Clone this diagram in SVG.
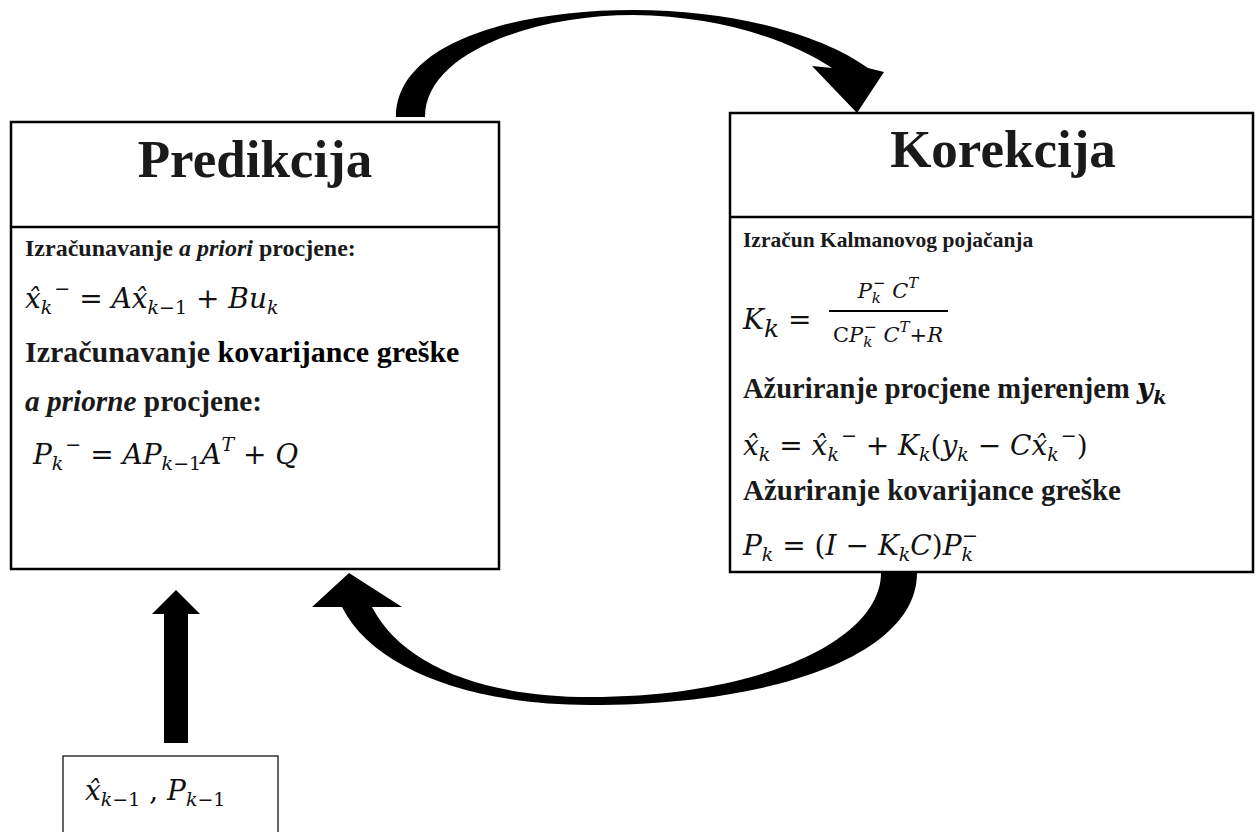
<svg xmlns="http://www.w3.org/2000/svg" width="1256" height="832" viewBox="0 0 1256 832">
<style>
.box{fill:#fff;stroke:#000;stroke-width:2.5}
.sbox{fill:#fff;stroke:#333;stroke-width:1.5}
.div{stroke:#000;stroke-width:2.5}
.t{font-family:"Liberation Serif",serif;font-weight:bold;fill:#1a1a1a}
.title{font-size:53px;text-anchor:middle}
.i{font-style:italic}
.m{font-family:"DejaVu Serif",serif;font-style:italic;font-size:28px;fill:#111}
.s{font-size:19px}
.r{font-style:normal}
.f{font-size:21px}
.fs{font-size:15px}
.arr{fill:#000;stroke:none}
</style>
<g id="connectors">
<path class="arr" d="M 396 117 C 396 45 510 10 633 10 C 735 10 822 35 868 68 L 884 72 L 857 113 L 812 66 L 832 68 C 790 40 720 16 633 15 C 535 15 425 52 425 117 Z"/>
<path class="arr" d="M 917 573 C 917 655 775 705 590 705 C 470 705 372 668 342 607 L 312 607 L 349 573 L 402 607 L 372 607 C 402 665 482 697 590 697 C 760 697 881 640 881 573 Z"/>
<path class="arr" d="M 164 743 L 164 614 L 152 614 L 176 590 L 200 614 L 188 614 L 188 743 Z"/>
</g>
<g id="predikcija">
<rect class="box" x="11" y="122" width="488" height="447"/>
<line class="div" x1="11" y1="227" x2="499" y2="227"/>
<text class="t title" x="255" y="177">Predikcija</text>
<text class="t" x="25" y="256" font-size="24">Izračunavanje <tspan class="i">a priori</tspan> procjene:</text>
<text class="m" x="25" y="308">x̂<tspan class="s" baseline-shift="-6">k</tspan><tspan class="s r" baseline-shift="13" dx="2">−</tspan><tspan class="r"> = </tspan>Ax̂<tspan class="s" baseline-shift="-6">k<tspan class="r">−1</tspan></tspan><tspan class="r"> + </tspan>Bu<tspan class="s" baseline-shift="-6">k</tspan></text>
<text class="t" x="25" y="362" font-size="30">Izračunavanje <tspan fill="#000">kovarijance greške</tspan></text>
<text class="t" x="25" y="411" font-size="29.3" fill="#000"><tspan class="i">a priorne</tspan> procjene:</text>
<text class="m" x="33" y="464">P<tspan class="s" baseline-shift="-6">k</tspan><tspan class="s r" baseline-shift="13" dx="2">−</tspan><tspan class="r"> = </tspan>AP<tspan class="s" baseline-shift="-6">k<tspan class="r">−1</tspan></tspan>A<tspan class="s" baseline-shift="13">T</tspan><tspan class="r"> + </tspan>Q</text>
</g>
<g id="korekcija">
<rect class="box" x="730" y="113" width="523" height="459"/>
<line class="div" x1="730" y1="217" x2="1253" y2="217"/>
<text class="t title" x="1003" y="167" font-size="56" fill="#000">Korekcija</text>
<text class="t" x="743" y="247" font-size="21.5">Izračun Kalmanovog pojačanja</text>
<text class="m" x="743" y="329" font-size="36">K<tspan font-size="25" baseline-shift="-8">k</tspan><tspan class="r"> = </tspan></text>
<text class="m f" x="888" y="298" text-anchor="middle">P<tspan class="fs" baseline-shift="-5">k</tspan><tspan class="r fs" baseline-shift="10" dx="-8">−</tspan> C<tspan class="fs" baseline-shift="10">T</tspan></text>
<line x1="829" y1="311" x2="948" y2="311" stroke="#000" stroke-width="2"/>
<text class="m f" x="888" y="342" text-anchor="middle"><tspan class="r">C</tspan>P<tspan class="fs" baseline-shift="-5">k</tspan><tspan class="r fs" baseline-shift="10" dx="-8">−</tspan> C<tspan class="fs" baseline-shift="10">T</tspan><tspan class="r">+</tspan>R</text>
<text class="t" x="743" y="398" font-size="28.5">Ažuriranje procjene mjerenjem  <tspan class="m" font-weight="bold" font-size="27">y<tspan class="s" baseline-shift="-6">k</tspan></tspan></text>
<text class="m" x="743" y="455">x̂<tspan class="s" baseline-shift="-6">k</tspan><tspan class="r"> = </tspan>x̂<tspan class="s" baseline-shift="-6">k</tspan><tspan class="s r" baseline-shift="13" dx="2">−</tspan><tspan class="r"> + </tspan>K<tspan class="s" baseline-shift="-6">k</tspan><tspan class="r">(</tspan>y<tspan class="s" baseline-shift="-6">k</tspan><tspan class="r"> − </tspan>Cx̂<tspan class="s" baseline-shift="-6">k</tspan><tspan class="s r" baseline-shift="13" dx="2">−</tspan><tspan class="r">)</tspan></text>
<text class="t" x="743" y="500" font-size="29" fill="#000">Ažuriranje kovarijance greške</text>
<text class="m" x="743" y="555">P<tspan class="s" baseline-shift="-6">k</tspan><tspan class="r"> = (</tspan>I<tspan class="r"> − </tspan>K<tspan class="s" baseline-shift="-6">k</tspan>C<tspan class="r">)</tspan>P<tspan class="s" baseline-shift="-6">k</tspan><tspan class="s r" baseline-shift="13" dx="-11">−</tspan></text>
</g>
<g id="input">
<rect class="sbox" x="63" y="756" width="215" height="90"/>
<text class="m" x="85" y="800" font-size="28">x̂<tspan class="s" baseline-shift="-6">k<tspan class="r">−1</tspan></tspan><tspan class="r"> ,  </tspan>P<tspan class="s" baseline-shift="-6">k<tspan class="r">−1</tspan></tspan></text>
</g>
</svg>
